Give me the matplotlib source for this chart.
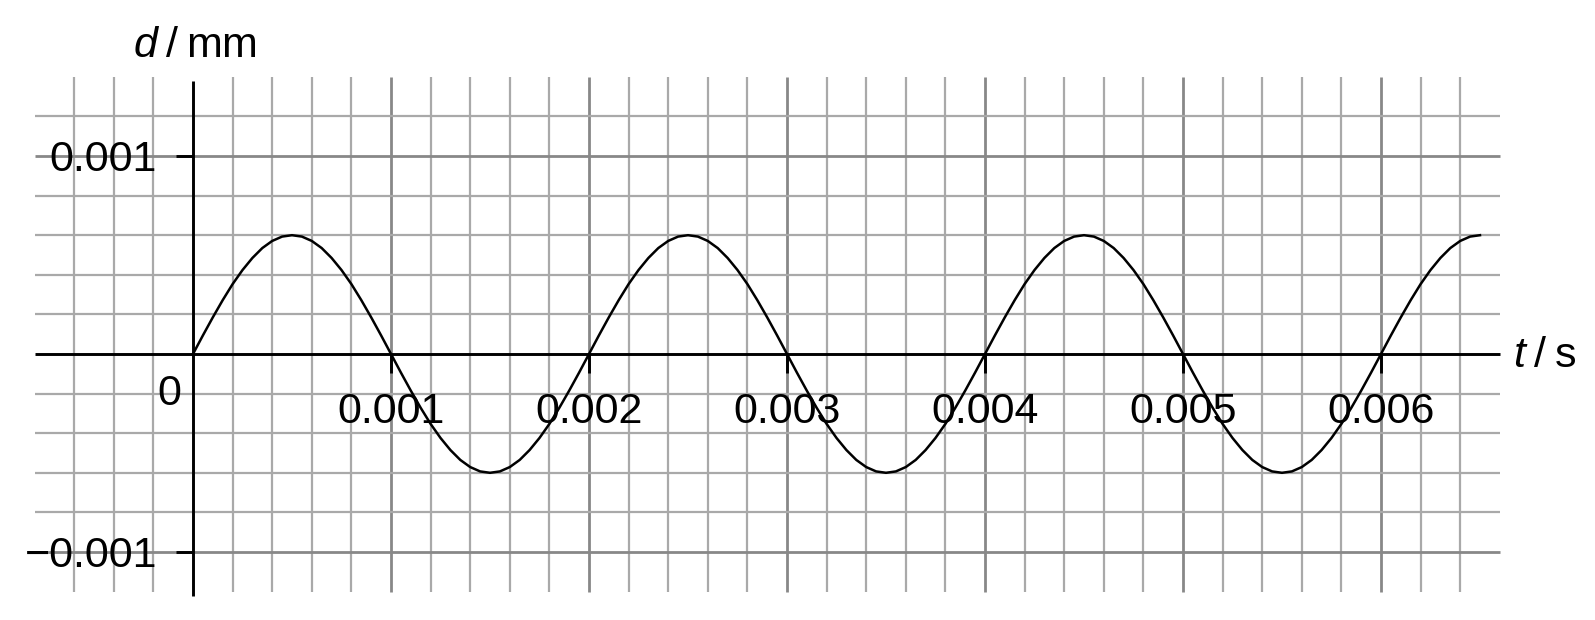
import numpy as np
import matplotlib
matplotlib.use("Agg")
from matplotlib import pyplot as plt

# displacement d (mm) every 0.00005 s, from t = 0 to t = 0.0065 s
d_mm = [
    0, 0.0000939, 0.000185, 0.000272, 0.000353, 0.000424, 0.000485, 0.000535, 0.000571, 0.000593,
    0.0006, 0.000593, 0.000571, 0.000535, 0.000485, 0.000424, 0.000353, 0.000272, 0.000185, 0.0000939,
    0, -0.0000939, -0.000185, -0.000272, -0.000353, -0.000424, -0.000485, -0.000535, -0.000571, -0.000593,
    -0.0006, -0.000593, -0.000571, -0.000535, -0.000485, -0.000424, -0.000353, -0.000272, -0.000185, -0.0000939,
    0, 0.0000939, 0.000185, 0.000272, 0.000353, 0.000424, 0.000485, 0.000535, 0.000571, 0.000593,
    0.0006, 0.000593, 0.000571, 0.000535, 0.000485, 0.000424, 0.000353, 0.000272, 0.000185, 0.0000939,
    0, -0.0000939, -0.000185, -0.000272, -0.000353, -0.000424, -0.000485, -0.000535, -0.000571, -0.000593,
    -0.0006, -0.000593, -0.000571, -0.000535, -0.000485, -0.000424, -0.000353, -0.000272, -0.000185, -0.0000939,
    0, 0.0000939, 0.000185, 0.000272, 0.000353, 0.000424, 0.000485, 0.000535, 0.000571, 0.000593,
    0.0006, 0.000593, 0.000571, 0.000535, 0.000485, 0.000424, 0.000353, 0.000272, 0.000185, 0.0000939,
    0, -0.0000939, -0.000185, -0.000272, -0.000353, -0.000424, -0.000485, -0.000535, -0.000571, -0.000593,
    -0.0006, -0.000593, -0.000571, -0.000535, -0.000485, -0.000424, -0.000353, -0.000272, -0.000185, -0.0000939,
    0, 0.0000939, 0.000185, 0.000272, 0.000353, 0.000424, 0.000485, 0.000535, 0.000571, 0.000593,
    0.0006,
]
t_s = np.linspace(0, 0.0065, len(d_mm))

x_ticks = [0.001, 0.002, 0.003, 0.004, 0.005, 0.006]
x_labels = ["0.001", "0.002", "0.003", "0.004", "0.005", "0.006"]
y_ticks = [0.001, -0.001]
y_labels = ["0.001", "\u22120.001"]

plt.rcParams["font.family"] = ["Liberation Sans", "DejaVu Sans"]
plt.rcParams["mathtext.fontset"] = "custom"
plt.rcParams["mathtext.it"] = "Liberation Sans:italic"
plt.rcParams["mathtext.rm"] = "Liberation Sans"

fig = plt.figure(figsize=(15.95, 6.2), dpi=100)
ax = fig.add_axes([0, 0, 1, 1])
ax.axis("off")
px = 198000.0  # pixels per unit
ax.set_xlim(-193 / px, (1595 - 193) / px)
ax.set_ylim(-(620 - 354) / px, 354 / px)

minor_c, major_c = "#a9a9a9", "#888888"

# vertical grid lines
for k in range(-3, 33):
    t = k * 0.0002
    if k == 0:
        continue
    major = k % 5 == 0
    ax.vlines(t, -0.0012, 0.0014, colors=major_c if major else minor_c,
              lw=2.0 if major else 1.6, zorder=1)
# horizontal grid lines
for k in range(-5, 7):
    d = k * 0.0002
    if k == 0:
        continue
    major = k % 5 == 0
    ax.hlines(d, -0.0008, 0.0066, colors=major_c if major else minor_c,
              lw=2.0 if major else 1.6, zorder=1)

# axes
ax.hlines(0, -0.0008, 0.0066, colors="black", lw=2.1, zorder=3)
ax.vlines(0, -0.00122, 0.00138, colors="black", lw=2.1, zorder=3)

# ticks
for t, lab in zip(x_ticks, x_labels):
    ax.vlines(t, -0.000094, 0, colors="black", lw=2.1, zorder=3)
    ax.text(t, -0.000348, lab, ha="center", va="baseline", fontsize=31, zorder=4)
for d, lab in zip(y_ticks, y_labels):
    ax.hlines(d, -0.000086, 0, colors="black", lw=2.1, zorder=3)
    ax.text(-0.000182, d - 0.000078, lab, ha="right", va="baseline", fontsize=31, zorder=4)
ax.text(-0.000121, -0.000258, "0", ha="center", va="baseline", fontsize=31, zorder=4)

# axis titles
ax.text(-0.000303, 0.0015, "$d$\u2009/\u2009mm", ha="left", va="baseline", fontsize=31)
ax.text(0.006667, -0.0000657, "$t$\u2009/\u2009s", ha="left", va="baseline", fontsize=31)

# curve
ax.plot(t_s, d_mm, color="black", lw=1.8, zorder=5, solid_joinstyle="round")

fig.savefig("out.png", dpi=100)
